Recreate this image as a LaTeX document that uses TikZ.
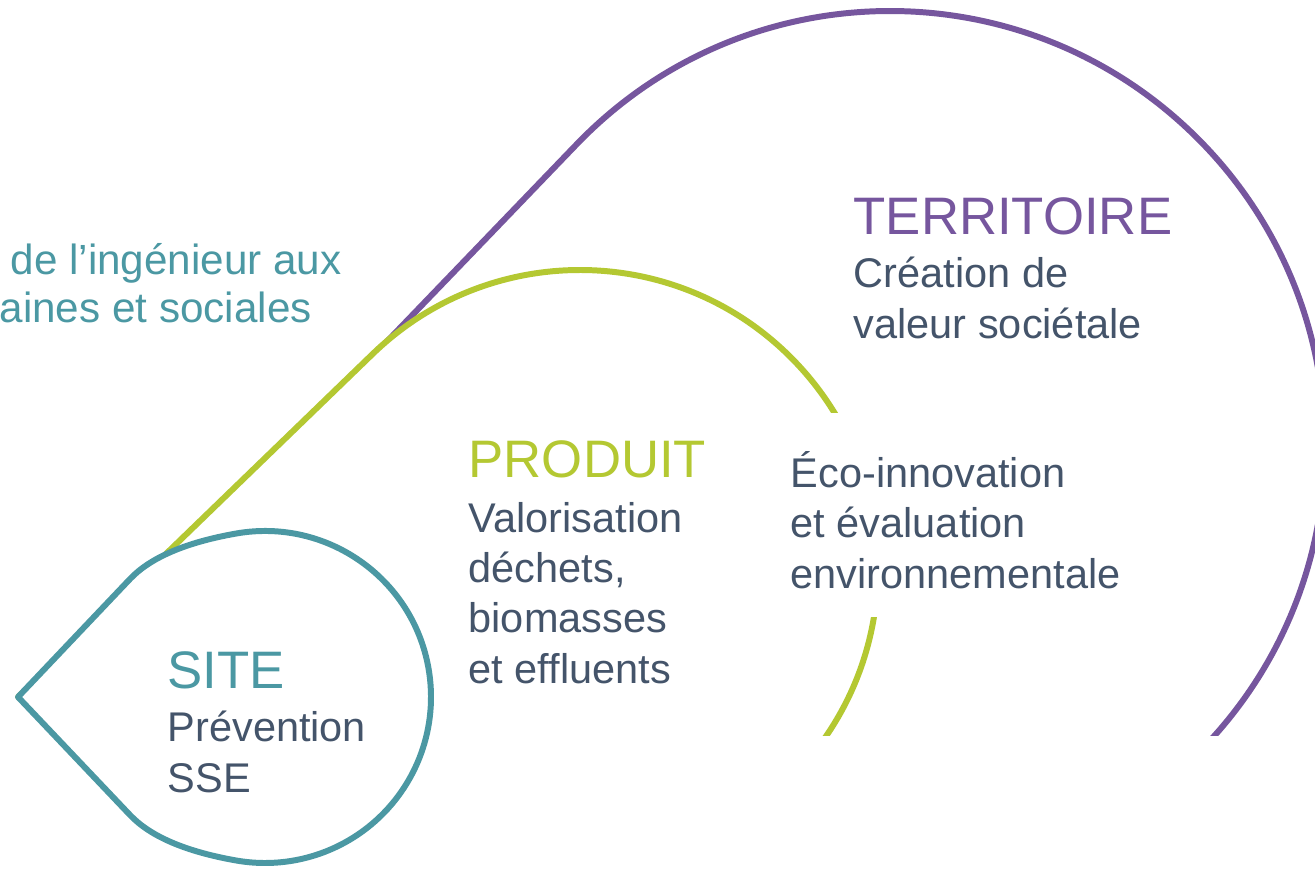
\documentclass[tikz,border=0pt]{standalone}
\usepackage{fontspec}
\setmainfont{Liberation Sans}
\usetikzlibrary{calc,positioning}
\definecolor{SiteTeal}{HTML}{4B98A3}
\definecolor{ProdGreen}{HTML}{B4C832}
\definecolor{TerrPurple}{HTML}{76569E}
\definecolor{BodyInk}{HTML}{44546A}

\begin{document}
\begin{tikzpicture}[x=0.01cm,y=0.01cm,every node/.style={inner sep=0pt,anchor=base west,align=left},drop/.style={line width=1.7pt,fill=white,line join=round},title/.style={font=\fontsize{15}{18}\selectfont},body/.style={font=\fontsize{11.8}{14.3}\selectfont,text=BodyInk}]
\useasboundingbox (0,0) rectangle (1315,869);
\coordinate (tip) at (18,172); \coordinate (Cs) at (265,172); \coordinate (Cp) at (580,301); \coordinate (Ct) at (890,423);

% outer drops, cut at the bottom
\begin{scope}
\clip (-50,134) rectangle (1400,900);
\draw[drop,draw=TerrPurple] (45,172) -- ($(Ct)+(136.11:435)$) arc[start angle=136.11,end angle=-103.03,radius=435] -- cycle;
\draw[drop,draw=ProdGreen] (tip) -- ($(Cp)+(134.05:298)$) arc[start angle=134.05,end angle=-108.19,radius=298] -- cycle;
\end{scope}
\fill[white] (775,252) rectangle (1140,456);
% small drop
\draw[drop,draw=SiteTeal] (tip) -- (130,290) .. controls (150.3,311.4) and (185.7,326.6) .. ($(Cs)+(100:166)$) arc[start angle=100,end angle=-100,radius=166] .. controls (185.7,17.4) and (150.3,32.6) .. (130,54) -- cycle;

\node[body,text=SiteTeal,font=\fontsize{12}{14.4}\selectfont] (intro1) at (10,594) {de l’ingénieur aux};
\node[body,text=SiteTeal,font=\fontsize{12}{14.4}\selectfont] (intro2) at (-1,546) {aines et sociales};
\node[title,text=TerrPurple] (terr) at (853,634) {TERRITOIRE};
\node[body] (terrtxt) at (853,531) {Création de\\valeur sociétale};
\node[title,text=ProdGreen] (prod) at (468,392) {PRODUIT};
\node[body] (prodtxt) at (468,186) {Valorisation\\déchets,\\biomasses\\et effluents};
\node[body] (eco) at (790,281) {Éco-innovation\\et évaluation\\environnementale};
\node[title,text=SiteTeal] (site) at (167,181) {SITE};
\node[body] (sitetxt) at (167,77) {Prévention\\SSE};

\end{tikzpicture}
\end{document}
